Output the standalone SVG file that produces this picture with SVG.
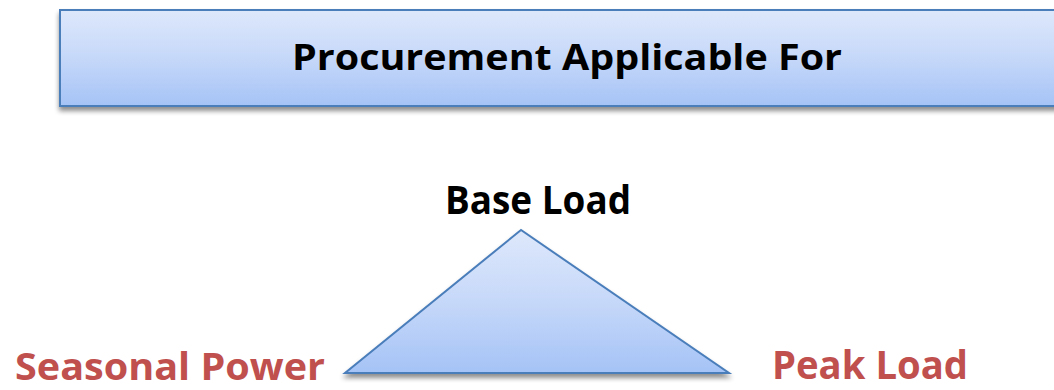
<svg xmlns="http://www.w3.org/2000/svg" width="1054" height="390" viewBox="0 0 1054 390">
  <defs>
    <linearGradient id="blueFill" x1="0" y1="0" x2="0" y2="1">
      <stop offset="0" stop-color="#DEE8FB"/>
      <stop offset="0.5" stop-color="#C6D8F9"/>
      <stop offset="1" stop-color="#A5C3F6"/>
    </linearGradient>
    <filter id="dropShadow" x="-5%" y="-10%" width="110%" height="130%">
      <feGaussianBlur in="SourceAlpha" stdDeviation="2.5"/>
      <feOffset dx="0" dy="4" result="blur"/>
      <feComponentTransfer><feFuncA type="linear" slope="0.45"/></feComponentTransfer>
      <feMerge><feMergeNode/><feMergeNode in="SourceGraphic"/></feMerge>
    </filter>
  </defs>
  <style>
    .shape { fill: url(#blueFill); stroke: #4A7EBB; stroke-width: 2; filter: url(#dropShadow); }
    .title { font-family: "Open Sans", "Liberation Sans", sans-serif; font-weight: bold; fill: #000000; }
    .corner { font-family: "Open Sans", "Liberation Sans", sans-serif; font-weight: bold; fill: #C0504D; }
  </style>
  <rect width="1054" height="390" fill="#FFFFFF"/>

  <g id="header">
    <rect class="shape" x="60" y="10" width="1010" height="96"/>
    <text class="title" x="292" y="70" font-size="35" textLength="550" lengthAdjust="spacingAndGlyphs">Procurement Applicable For</text>
  </g>

  <g id="triangle">
    <polygon class="shape" points="521,230 345,373 729,373"/>
  </g>

  <g id="base-load">
    <text class="title" x="445" y="214" font-size="40" textLength="186" lengthAdjust="spacingAndGlyphs">Base Load</text>
  </g>

  <g id="seasonal-power">
    <text class="corner" x="15" y="380" font-size="37" textLength="310" lengthAdjust="spacingAndGlyphs">Seasonal Power</text>
  </g>

  <g id="peak-load">
    <text class="corner" x="772" y="379" font-size="40" textLength="196" lengthAdjust="spacingAndGlyphs">Peak Load</text>
  </g>

  <g id="connectors"/>
</svg>
